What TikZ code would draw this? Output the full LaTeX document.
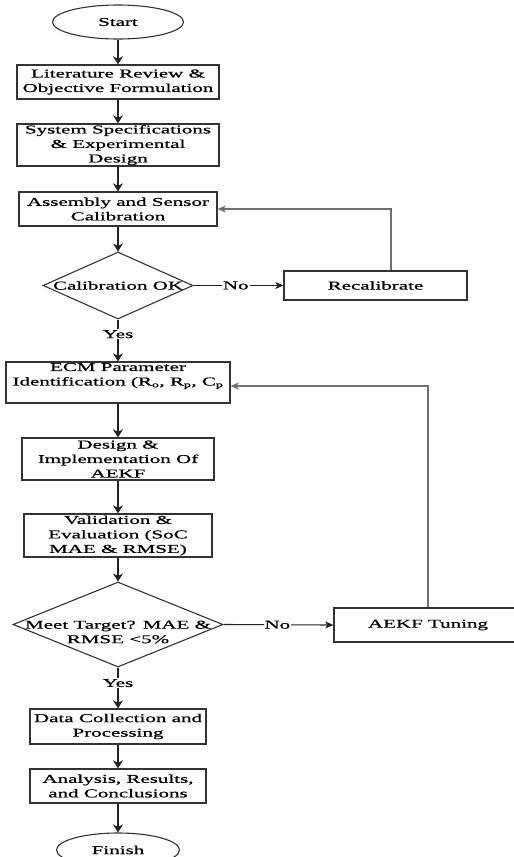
\documentclass[tikz,border=0pt]{standalone}
\usepackage{fontspec}
\setmainfont{Liberation Serif}[FakeStretch=1.75, FakeBold=0.8]
\usetikzlibrary{shapes.geometric,arrows.meta}
\newcommand\flowfont{\fontsize{12}{14.5}\selectfont}
\definecolor{boxc}{HTML}{333333}
\definecolor{arrc}{HTML}{222222}
\definecolor{fbc}{HTML}{707070}
\begin{document}
\begin{tikzpicture}[x=1pt,y=-1pt,
  box/.style={draw=boxc, line width=1.3pt, rectangle, inner sep=0pt, align=center, font=\flowfont},
  term/.style={draw=boxc, line width=1.1pt, ellipse, inner sep=0pt, font=\flowfont},
  dia/.style={draw=boxc, line width=1.1pt, diamond, inner sep=0pt},
  txt/.style={align=center, font=\flowfont, inner sep=0pt},
  arr/.style={draw=arrc, line width=1.3pt, -{Stealth[length=8pt,width=10pt,inset=2.5pt]}},
  arrh/.style={draw=arrc, line width=1.1pt, -{Stealth[length=8pt,width=7pt,inset=2pt]}},
  fb/.style={draw=fbc, line width=1.2pt, -{Stealth[length=8pt,width=7pt,inset=2pt]}},
  lab/.style={fill=white, inner sep=1pt, font=\flowfont}]
\useasboundingbox (0,0) rectangle (514,857);
\fill[white] (0,0) rectangle (514,857);

\node[term, minimum width=131pt, minimum height=34pt] (start) at (118,22) {Start};
\node[box, minimum width=202pt, minimum height=34pt] (lit) at (118,82) {Literature Review \&\\Objective Formulation};
\node[box, minimum width=202pt, minimum height=42pt] (sys) at (118,145) {System Specifications\\\& Experimental\\Design};
\node[box, minimum width=198pt, minimum height=34pt] (asm) at (118,209) {Assembly and Sensor\\Calibration};
\node[dia, minimum width=150pt, minimum height=67pt] (cal) at (118,285.5) {};
\node[txt] (calt) at (cal.center) {Calibration OK};
\node[box, minimum width=183pt, minimum height=29pt] (recal) at (375.5,285.5) {Recalibrate};
\node[box, minimum width=224pt, minimum height=41pt] (ecm) at (118,382.5) {};
\node[txt] (ecmt) at (118,376) {ECM Parameter\\Identification (R\textsubscript{o}, R\textsubscript{p}, C\textsubscript{p}};
\node[box, minimum width=192pt, minimum height=42pt] (des) at (118,459) {Design \&\\Implementation Of\\AEKF};
\node[box, minimum width=188pt, minimum height=43pt] (val) at (118,535.5) {Validation \&\\Evaluation (SoC\\MAE \& RMSE)};
\node[dia, minimum width=210pt, minimum height=85pt] (meet) at (118,624.5) {};
\node[txt] (meett) at (118,632) {Meet Target? MAE \&\\RMSE <5\%};
\node[box, minimum width=188pt, minimum height=34pt] (tune) at (428,625) {AEKF Tuning};
\node[box, minimum width=176pt, minimum height=35pt] (data) at (118,726.5) {Data Collection and\\Processing};
\node[box, minimum width=176pt, minimum height=34pt] (anal) at (118,786) {Analysis, Results,\\and Conclusions};
\node[term, minimum width=123pt, minimum height=34pt] (fin) at (118,850) {Finish};

\draw[arr] (start) -- (lit);
\draw[arr] (lit) -- (sys);
\draw[arr] (sys) -- (asm);
\draw[arr] (asm) -- (cal);
\draw[arrh] (cal.east) -- node[lab, pos=0.47] {No} (recal.west);
\draw[fb] ([xshift=15.5pt]recal.north) |- (asm.east);
\draw[arr] (cal.south) -- node[lab, pos=0.35] {Yes} (ecm.north);
\draw[arr] (ecm) -- (des);
\draw[arr] (des) -- (val);
\draw[arr] (val) -- (meet.north);
\draw[arrh] (meet.east) -- node[lab, pos=0.49] {No} (tune.west);
\draw[fb] (tune.north) |- ([yshift=-3.5pt]ecm.east);
\draw[arr] (meet.south) -- node[lab, pos=0.38] {Yes} (data.north);
\draw[arr] (data) -- (anal);
\draw[arr] (anal) -- (fin);
\end{tikzpicture}
\end{document}
